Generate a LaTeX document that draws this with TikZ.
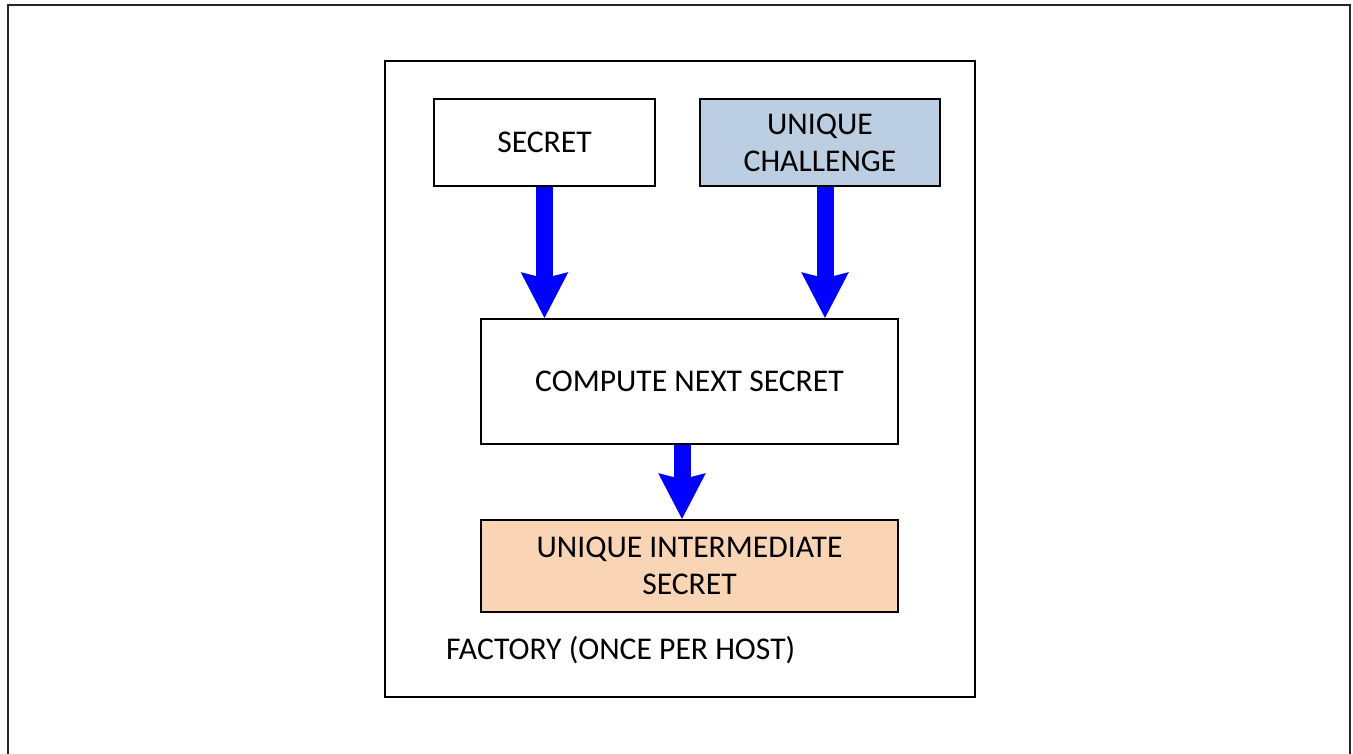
\documentclass[tikz,border=0pt]{standalone}
\usepackage{fontspec}
\setmainfont{Carlito}
\usepackage{xcolor}
\usetikzlibrary{arrows.meta}
\usetikzlibrary{calc}

\definecolor{challengeblue}{RGB}{188,206,226}
\definecolor{secretpeach}{RGB}{249,213,182}
\definecolor{flowblue}{RGB}{0,0,255}

\tikzset{
  box/.style={draw=black, line width=0.8pt, inner sep=0pt, align=center,
    font=\fontsize{18}{21}\selectfont},
  flow/.style={-{Stealth[length=0.9cm, width=0.9cm, inset=0.1cm]},
    line width=0.34cm, draw=flowblue},
}

\begin{document}
\begin{tikzpicture}[line join=miter]

    \useasboundingbox (0,0) rectangle (27.06,15.08);

    % outer frame (open at the bottom)
    \draw[line width=0.8pt, black!85] (0.16,0) -- (0.16,14.98) -- (27.0,14.98) -- (27.0,0);

    \node[box, minimum width=11.8cm, minimum height=12.72cm] (factory) at (13.6,7.5) {};

    \node[box, minimum width=4.42cm, minimum height=1.74cm] (secret) at (10.89,12.23) {SECRET};
    \node[box, fill=challengeblue, minimum width=4.8cm, minimum height=1.74cm] (challenge) at (16.4,12.23) {UNIQUE\\CHALLENGE};

    \node[box, minimum width=8.34cm, minimum height=2.5cm] (compute) at (13.79,7.45) {COMPUTE NEXT SECRET};

    \node[box, fill=secretpeach, minimum width=8.34cm, minimum height=1.84cm] (inter) at (13.79,3.76) {UNIQUE INTERMEDIATE\\SECRET};

    \node[anchor=west, font=\fontsize{18}{21}\selectfont] (label) at (8.8,2.08) {FACTORY (ONCE PER HOST)};

    \coordinate (challengeout) at ($(challenge.south)+(0.1,0)$);
    \coordinate (computeout) at ($(compute.south)+(-0.15,0)$);

    \draw[flow] (secret.south) -- (secret.south |- compute.north);
    \draw[flow] (challengeout) -- (challengeout |- compute.north);
    \draw[flow] (computeout) -- (computeout |- inter.north);

\end{tikzpicture}
\end{document}
